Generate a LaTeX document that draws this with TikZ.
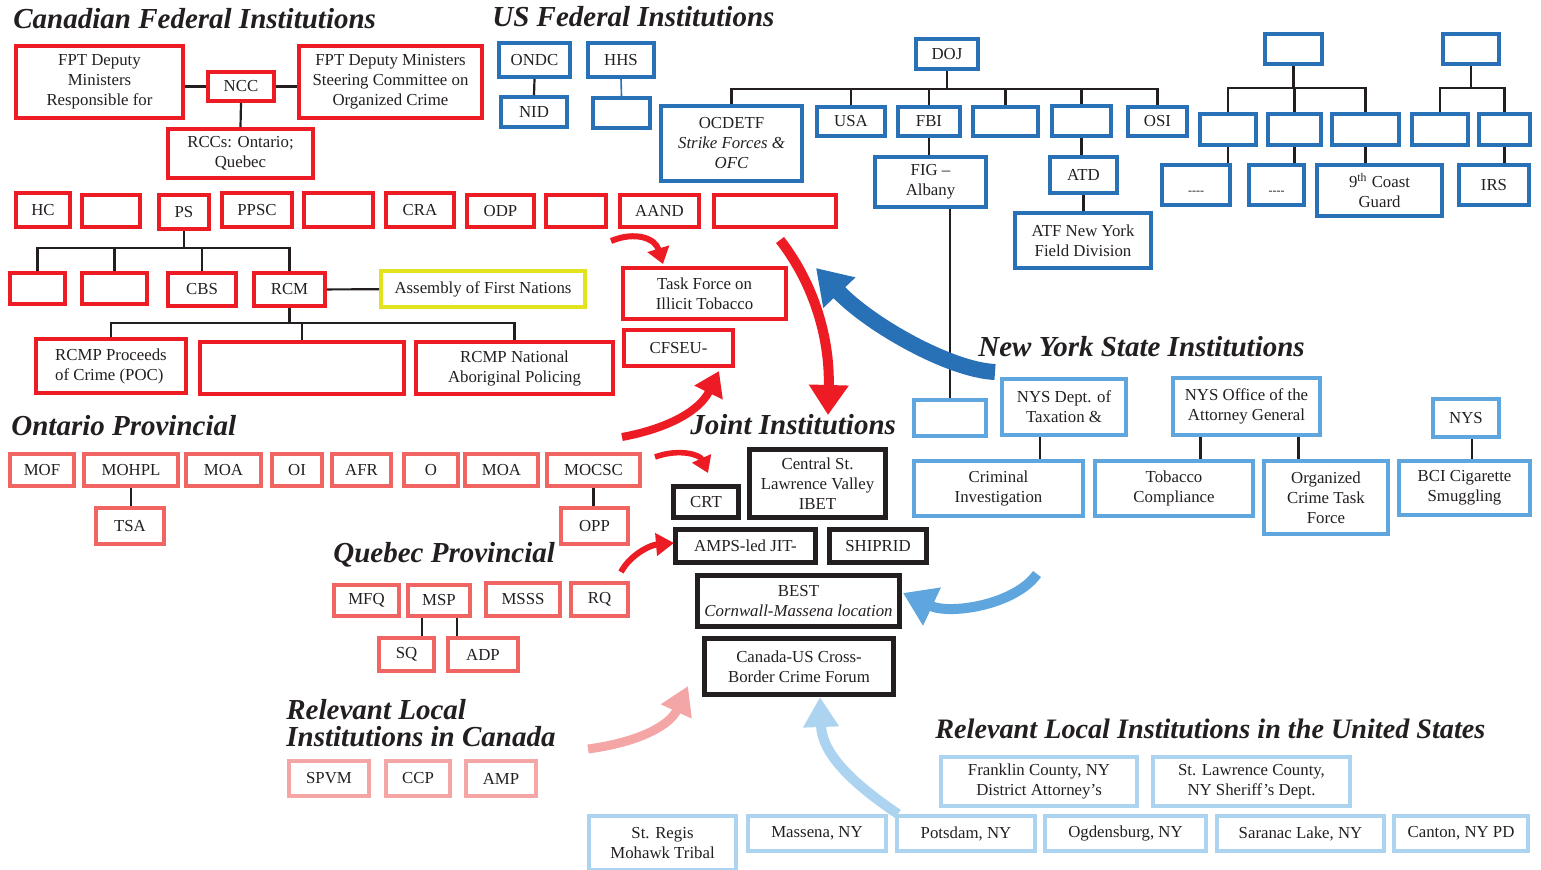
\documentclass[tikz,border=0pt]{standalone}
\usepackage{fontspec}
\setmainfont{Liberation Serif}
\usetikzlibrary{arrows.meta}

\definecolor{cfred}{RGB}{237,28,36}
\definecolor{provred}{RGB}{240,100,98}
\definecolor{locpink}{RGB}{244,166,166}
\definecolor{usblue}{RGB}{41,113,183}
\definecolor{nysblue}{RGB}{94,166,221}
\definecolor{locblue}{RGB}{172,212,240}
\definecolor{afnyellow}{RGB}{226,226,30}
\definecolor{inkk}{RGB}{35,31,32}

\tikzset{
  box/.style={rectangle, draw, line width=2.2pt, inner sep=1pt, align=center, text=inkk,
    font=\fontsize{8.4}{10}\selectfont},
  sz/.style 2 args={minimum width=#1*0.5pt-2.2pt, minimum height=#2*0.5pt-2.2pt},
  cf/.style={box, draw=cfred},
  prov/.style={box, draw=provred},
  loccan/.style={box, draw=locpink},
  usf/.style={box, draw=usblue},
  nys/.style={box, draw=nysblue},
  locus/.style={box, draw=locblue},
  afn/.style={box, draw=afnyellow},
  joint/.style={box, draw=inkk, line width=2.5pt},
  conn/.style={draw=inkk, line width=1.1pt},
  ttl/.style={anchor=west, inner sep=0pt, text=inkk, align=left,
    font=\fontsize{14.5}{13.5}\selectfont\bfseries\itshape},
  arr/.style 2 args={draw=#1, line width=#2},
}

\begin{document}
\begin{tikzpicture}[x=0.5pt, y=-0.5pt]
\useasboundingbox (0,0) rectangle (1541,869);

\node[ttl] (tcf) at (13,19) {Canadian Federal Institutions};
\node[ttl] (tus) at (492,17) {US Federal Institutions};
\node[ttl] (tnys) at (978,347) {New York State Institutions};
\node[ttl] (tont) at (11,426) {Ontario Provincial};
\node[ttl] (tjoint) at (690,425) {Joint Institutions};
\node[ttl] (tque) at (333,555) {Quebec Provincial};
\node[ttl] (tlocc) at (286,723) {Relevant Local\\Institutions in Canada};
\node[ttl, font=\fontsize{14.1}{12}\selectfont\bfseries\itshape] (tlocu) at (935,729) {Relevant Local Institutions in the United States};

\node[cf, sz={171}{76}] (fptdm) at (99.5,82) {FPT Deputy\\Ministers\\Responsible for};
\node[cf, sz={70}{33}] (ncc) at (241,86.5) {NCC};
\node[cf, sz={187}{76}] (fptsc) at (390.5,82) {FPT Deputy Ministers\\Steering Committee on\\Organized Crime};
\node[cf, sz={149}{53}] (rcc) at (240.5,153.5) {RCCs: Ontario;\\Quebec};
\node[cf, sz={58}{38}] (hc) at (43,210) {HC};
\node[cf, sz={62}{36}] (cfb1) at (111,211) {};
\node[cf, sz={54}{38}] (ps) at (184,212) {PS};
\node[cf, sz={74}{38}] (ppsc) at (257,210) {PPSC};
\node[cf, sz={73}{38}] (cfb2) at (338.5,210) {};
\node[cf, sz={72}{38}] (cra) at (420,210) {CRA};
\node[cf, sz={71}{36}] (odp) at (500.5,211) {ODP};
\node[cf, sz={64}{36}] (cfb3) at (576,211) {};
\node[cf, sz={83}{36}] (aand) at (659.5,211) {AAND};
\node[cf, sz={126}{36}] (cfb4) at (775,211) {};
\node[cf, sz={59}{35}] (psb1) at (37.5,288.5) {};
\node[cf, sz={69}{35}] (psb2) at (114.5,288.5) {};
\node[cf, sz={72}{37}] (cbs) at (202,289.5) {CBS};
\node[cf, sz={75}{37}] (rcm) at (289.5,289.5) {RCM};
\node[afn, sz={208}{40}] (afn) at (483,289) {Assembly of First Nations};
\node[cf, sz={154}{58}, align=left] (poc) at (111,366) {RCMP Proceeds\\of Crime (POC)};
\node[cf, sz={208}{56}] (rcmb) at (302,368) {};
\node[cf, sz={201}{56}] (rcmpnap) at (514.5,368) {RCMP National\\Aboriginal Policing};
\node[cf, sz={167}{55}] (tfit) at (704.5,293.5) {Task Force on\\Illicit Tobacco};
\node[cf, sz={113}{40}] (cfseu) at (678.5,348) {CFSEU-};

\node[usf, sz={75}{38}] (ondc) at (534.5,60) {ONDC};
\node[usf, sz={70}{34}] (nid) at (534,112) {NID};
\node[usf, sz={70}{38}] (hhs) at (621,60) {HHS};
\node[usf, sz={61}{34}] (hhsb) at (621.5,113) {};
\node[usf, sz={66}{34}] (doj) at (947,54) {DOJ};
\node[usf, sz={145}{79}] (ocdetf) at (731.5,143.5) {OCDETF\\\textit{Strike Forces \&}\\\textit{OFC}};
\node[usf, sz={72}{33}] (usa) at (851,121.5) {USA};
\node[usf, sz={66}{33}] (fbi) at (929,121.5) {FBI};
\node[usf, sz={69}{33}] (usb1) at (1005.5,121.5) {};
\node[usf, sz={63}{34}] (usb2) at (1081.5,121) {};
\node[usf, sz={63}{33}] (osi) at (1157.5,121.5) {OSI};
\node[usf, sz={115}{54}] (fig) at (930.5,182) {FIG --\\Albany};
\node[usf, sz={71}{40}] (atd) at (1083.5,175) {ATD};
\node[usf, sz={140}{59}] (atf) at (1083,240.5) {ATF New York\\Field Division};
\node[usf, sz={61}{34}] (usb3) at (1293.5,49) {};
\node[usf, sz={60}{35}] (usb4) at (1228,129.5) {};
\node[usf, sz={57}{35}] (usb5) at (1294.5,129.5) {};
\node[usf, sz={71}{35}] (usb6) at (1365.5,129.5) {};
\node[usf, sz={72}{44}] (dash1) at (1196,185) {\raisebox{-9pt}{\fontsize{6}{6}\selectfont -{}-{}-{}-}};
\node[usf, sz={59}{44}] (dash2) at (1276.5,185) {\raisebox{-9pt}{\fontsize{6}{6}\selectfont -{}-{}-{}-}};
\node[usf, sz={129}{55}] (coast) at (1379.5,190.5) {9\textsuperscript{th} Coast\\Guard};
\node[usf, sz={60}{34}] (usb7) at (1471,49) {};
\node[usf, sz={60}{35}] (usb8) at (1440,129.5) {};
\node[usf, sz={55}{35}] (usb9) at (1504.5,129.5) {};
\node[usf, sz={74}{44}] (irs) at (1494,185) {IRS};

\node[nys, sz={76}{40}] (nysb) at (950,418) {};
\node[nys, sz={128}{60}] (nystax) at (1064,407) {NYS Dept. of\\Taxation \&};
\node[nys, sz={151}{61}] (nysoag) at (1246.5,406.5) {NYS Office of the\\Attorney General};
\node[nys, sz={70}{42}] (nysp) at (1466,418) {NYS};
\node[nys, sz={173}{59}] (crim) at (998.5,488.5) {Criminal\\Investigation};
\node[nys, sz={162}{59}] (tobc) at (1174,488.5) {Tobacco\\Compliance};
\node[nys, sz={128}{77}] (octf) at (1326,497.5) {Organized\\Crime Task\\Force};
\node[nys, sz={135}{58}] (bci) at (1464.5,488) {BCI Cigarette\\Smuggling};

\node[prov, sz={68}{36}] (mof) at (42,470) {MOF};
\node[prov, sz={98}{36}] (mohpl) at (131,470) {MOHPL};
\node[prov, sz={79}{36}] (moa1) at (223.5,470) {MOA};
\node[prov, sz={54}{36}] (oi) at (297,470) {OI};
\node[prov, sz={63}{36}] (afr) at (361.5,470) {AFR};
\node[prov, sz={58}{36}] (onode) at (431,470) {O};
\node[prov, sz={77}{36}] (moa2) at (501.5,470) {MOA};
\node[prov, sz={97}{36}] (mocsc) at (593.5,470) {MOCSC};
\node[prov, sz={72}{40}] (tsa) at (130,526) {TSA};
\node[prov, sz={71}{40}] (opp) at (594.5,526) {OPP};

\node[prov, sz={69}{35}] (mfq) at (366.5,600.5) {MFQ};
\node[prov, sz={66}{35}] (msp) at (439,600.5) {MSP};
\node[prov, sz={78}{37}] (msss) at (523,599.5) {MSSS};
\node[prov, sz={61}{37}] (rq) at (599.5,599.5) {RQ};
\node[prov, sz={59}{37}] (sq) at (406.5,654.5) {SQ};
\node[prov, sz={74}{37}] (adp) at (483,654.5) {ADP};

\node[loccan, sz={84}{39}] (spvm) at (329,778.5) {SPVM};
\node[loccan, sz={68}{39}] (ccp) at (418,778.5) {CCP};
\node[loccan, sz={74}{39}] (amp) at (501,778.5) {AMP};

\node[joint, sz={70}{36}] (crt) at (706,502) {CRT};
\node[joint, sz={141}{73}] (ibet) at (817.5,483.5) {Central St.\\Lawrence Valley\\IBET};
\node[joint, sz={145}{38}] (jit) at (745.5,546) {AMPS-led JIT-};
\node[joint, sz={102}{38}] (shiprid) at (878,546) {SHIPRID};
\node[joint, sz={207}{56}] (best) at (798.5,601) {BEST\\\textit{Cornwall-Massena location}};
\node[joint, sz={194}{61}] (cbcf) at (799,666.5) {Canada-US Cross-\\Border Crime Forum};

\node[locus, sz={200}{53}] (franklin) at (1039,781.5) {Franklin County, NY\\District Attorney's};
\node[locus, sz={201}{53}] (stlaw) at (1251.5,781.5) {St. Lawrence County,\\NY Sheriff's Dept.};
\node[locus, sz={151}{58}] (regis) at (662.5,843) {St. Regis\\Mohawk Tribal};
\node[locus, sz={142}{39}] (massena) at (817,833.5) {Massena, NY};
\node[locus, sz={142}{39}] (potsdam) at (966,833.5) {Potsdam, NY};
\node[locus, sz={165}{39}] (ogden) at (1125.5,833.5) {Ogdensburg, NY};
\node[locus, sz={171}{39}] (saranac) at (1300.5,833.5) {Saranac Lake, NY};
\node[locus, sz={138}{39}] (canton) at (1461,833.5) {Canton, NY PD};

\draw[conn] (ncc.west) -- (ncc.west -| fptdm.east);
\draw[conn] (ncc.east) -- (ncc.east -| fptsc.west);
\draw[conn] (ncc.south) -- (rcc.north);
\draw[conn] (ps.south) -- ++(0,17) coordinate (psbar);
\draw[conn] (psb1.north) |- (psbar) -| (rcm.north);
\foreach \n in {psb2,cbs} \draw[conn] (\n.north) -- (\n.north |- psbar);
\draw[conn] (rcm) -- (afn);
\draw[conn] (rcm.south) -- ++(0,15) coordinate (rcmbar);
\draw[conn] (poc.north) |- (rcmbar) -| (rcmpnap.north);
\draw[conn] (rcmb.north) -- (rcmb.north |- rcmbar);

\draw[conn] (ondc.south) -- (nid.north);
\draw[draw=usblue, line width=0.8pt] (hhs.south) -- (hhsb.north);
\draw[conn] (doj.south) -- ++(0,18) coordinate (dojbar);
\draw[conn] (ocdetf.north) |- (dojbar) -| (osi.north);
\foreach \n in {usa,fbi,usb1,usb2} \draw[conn] (\n.north) -- (\n.north |- dojbar);
\draw[conn] (fbi.south) -- (fbi.south |- fig.north);
\draw[conn] (usb2.south) -- (usb2.south |- atd.north);
\draw[conn] (atd.south) -- (atd.south |- atf.north);
\draw[conn] (nysb.north) -- (nysb.north |- fig.south);
\draw[conn] (usb3.south) -- ++(0,22) coordinate (g1bar);
\draw[conn] (usb4.north) |- (g1bar) -| (usb6.north);
\draw[conn] (usb5.north) -- (usb5.north |- g1bar);
\draw[conn] (usb4.south) -- (usb4.south |- dash1.north);
\draw[conn] (usb5.south) -- (usb5.south |- dash2.north);
\draw[conn] (usb6.south) -- (usb6.south |- coast.north);
\draw[conn] (usb7.south) -- ++(0,22) coordinate (g2bar);
\draw[conn] (usb8.north) |- (g2bar) -| (usb9.north);
\draw[conn] (usb9.south) -- (usb9.south |- irs.north);

\draw[conn] ([xshift=-12pt]nystax.south) -- ([xshift=-12pt]nystax.south |- crim.north);
\draw[conn] ([xshift=-23pt]nysoag.south) -- ([xshift=-23pt]nysoag.south |- tobc.north);
\draw[conn] ([xshift=26pt]nysoag.south) -- ([xshift=26pt]nysoag.south |- octf.north);
\draw[conn] ([xshift=3pt]nysp.south) -- ([xshift=3pt]nysp.south |- bci.north);

\draw[conn] (mohpl.south) -- (mohpl.south |- tsa.north);
\draw[conn] (mocsc.south) -- (mocsc.south |- opp.north);
\draw[conn] ([xshift=-8.5pt]msp.south) -- ([xshift=-8.5pt]msp.south |- sq.north);
\draw[conn] ([xshift=9pt]msp.south) -- ([xshift=9pt]msp.south |- adp.north);

\coordinate (a1s) at (611,241); \coordinate (a1e) at (663,264);
\coordinate (a2s) at (780,240); \coordinate (a2e) at (828,415);
\coordinate (a3s) at (995,372); \coordinate (a3e) at (816,268);
\coordinate (a4s) at (622,437); \coordinate (a4e) at (719,371);
\coordinate (a5s) at (655,457); \coordinate (a5e) at (708,473);
\coordinate (a6s) at (621,572); \coordinate (a6e) at (674,543);
\coordinate (a7s) at (1037,574); \coordinate (a7e) at (903,593);
\coordinate (a8s) at (588,749); \coordinate (a8e) at (688,686);
\coordinate (a9s) at (898,814); \coordinate (a9e) at (820,697);

\draw[arr={cfred}{3pt}, -{Triangle[width=11pt,length=8pt]}] (a1s) .. controls (635,231) and (655,238) .. (a1e);
\draw[arr={cfred}{5pt}, -{Triangle[width=19pt,length=15pt]}] (a2s) .. controls (815,285) and (830,340) .. (a2e);
\draw[arr={usblue}{8pt}, -{Triangle[width=21pt,length=17pt]}] (a3s) .. controls (950,370) and (870,325) .. (a3e);
\draw[arr={cfred}{4pt}, -{Triangle[width=15pt,length=12pt]}] (a4s) .. controls (670,428) and (700,410) .. (a4e);
\draw[arr={cfred}{2.8pt}, -{Triangle[width=10pt,length=8pt]}] (a5s) .. controls (680,448) and (700,455) .. (a5e);
\draw[arr={cfred}{3pt}, -{Triangle[width=11pt,length=9pt]}] (a6s) .. controls (630,555) and (650,545) .. (a6e);
\draw[arr={nysblue}{5pt}, -{Triangle[width=20pt,length=16pt]}] (a7s) .. controls (1015,605) and (950,615) .. (a7e);
\draw[arr={locpink}{4.5pt}, -{Triangle[width=16pt,length=14pt]}] (a8s) .. controls (640,742) and (670,725) .. (a8e);
\draw[arr={locblue}{5pt}, -{Triangle[width=17pt,length=15pt]}] (a9s) .. controls (855,785) and (822,755) .. (a9e);
\end{tikzpicture}
\end{document}
